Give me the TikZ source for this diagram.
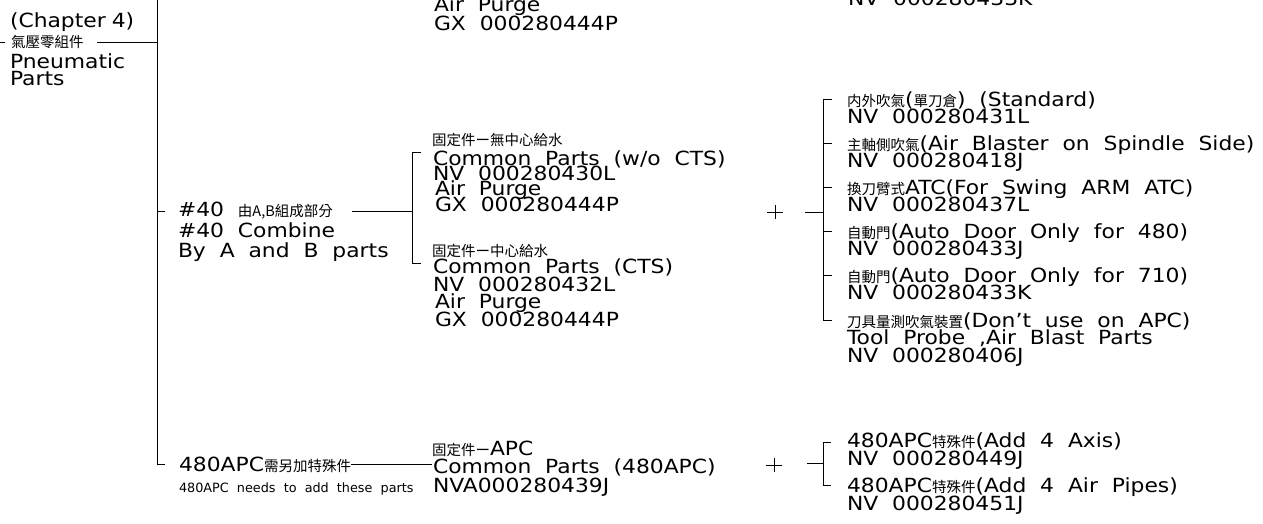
\documentclass[tikz,border=0pt]{standalone}
\usepackage{fontspec}
\setmainfont{DejaVu Sans}[FakeStretch=1.12,WordSpace=2]
\newfontfamily\cjkf{Noto Sans CJK TC}
\newfontfamily\smallf{DejaVu Sans}[WordSpace=2]
\newcommand\cj[1]{{\cjkf\fontsize{14.5}{14.5}\selectfont #1}}
\tikzset{
  lt/.style={anchor=base west, inner sep=0pt, outer sep=0pt, font=\fontsize{19.5}{19.5}\selectfont},
  sm/.style={anchor=base west, inner sep=0pt, outer sep=0pt, font=\smallf\fontsize{12.8}{12.8}\selectfont},
  wire/.style={line width=1pt, draw=black},
}
\begin{document}
\begin{tikzpicture}[x=1pt,y=-1pt]
\clip (0,0) rectangle (1263,523);
\fill[white] (0,0) rectangle (1263,523);

% cut-off text at top
\node[lt] (tAir) at (434,11) {Air Purge};
\node[lt] (tGX)  at (434,30) {GX 000280444P};
\node[lt] (tNV)  at (848,5)  {NV 000280433K};

% left root
\node[lt] (chap)   at (10,27) {(Chapter\hspace{6pt}4)};
\node[lt] (pneuCJ) at (11,47) {\cj{氣壓零組件}};
\node[lt] (pneu1)  at (10,68) {Pneumatic};
\node[lt] (pneu2)  at (10,85) {Parts};

\coordinate (l0) at (0,42);
\coordinate (l1) at (5,42);
\coordinate (l2) at (97,42);
\coordinate (trJ) at (157,42);
\coordinate (trTop) at (157,0);
\coordinate (trMid) at (157,211);
\coordinate (trMidE) at (165,211);
\coordinate (trBot) at (157,464);
\coordinate (trBotE) at (165,464);
\draw[wire] (l0) -- (l1);
\draw[wire] (l2) -- (trJ);
\draw[wire] (trTop) -- (trBot) -- (trBotE);
\draw[wire] (trMid) -- (trMidE);

% #40 group
\node[lt] (h40a) at (178,216) {\#40 \cj{由A,B組成部分}};
\node[lt] (h40b) at (178,237) {\#40 Combine};
\node[lt] (h40c) at (178,257) {By A and B parts};
\coordinate (h40L) at (352,211);
\coordinate (brM) at (412,211);
\coordinate (brT) at (412,152);
\coordinate (brTE) at (421,152);
\coordinate (brB) at (412,263);
\coordinate (brBE) at (421,263);
\draw[wire] (h40L) -- (brM);
\draw[wire] (brTE) -- (brT) -- (brB) -- (brBE);

% middle column, upper
\node[lt] (m1cj) at (432,145) {\cj{固定件ー無中心給水}};
\node[lt] (m1a)  at (433,165) {Common Parts (w/o CTS)};
\node[lt] (m1b)  at (433,180.5) {NV 000280430L};
\node[lt] (m1c)  at (435,195.5) {Air Purge};
\node[lt] (m1d)  at (435,211) {GX 000280444P};
% middle column, lower
\node[lt] (m2cj) at (432,256) {\cj{固定件ー中心給水}};
\node[lt] (m2a)  at (433,273) {Common Parts (CTS)};
\node[lt] (m2b)  at (433,291) {NV 000280432L};
\node[lt] (m2c)  at (435,308.5) {Air Purge};
\node[lt] (m2d)  at (435,326) {GX 000280444P};

% plus 1
\coordinate (p1l) at (767,212);
\coordinate (p1r) at (783,212);
\coordinate (p1t) at (775,205);
\coordinate (p1b) at (775,219);
\draw[wire] (p1l) -- (p1r);
\draw[wire] (p1t) -- (p1b);

% right bracket
\coordinate (rdL) at (805,212);
\coordinate (rdR) at (823,212);
\coordinate (rT) at (823,99);
\coordinate (rTE) at (832,99);
\coordinate (rB) at (823,320);
\coordinate (rBE) at (832,320);
\draw[wire] (rdL) -- (rdR);
\draw[wire] (rTE) -- (rT) -- (rB) -- (rBE);
\foreach \yy [count=\i] in {143,187,231,275}{
  \coordinate (rt\i) at (823,\yy);
  \coordinate (rte\i) at (832,\yy);
  \draw[wire] (rt\i) -- (rte\i);
}

\node[lt] (r1a) at (847,106) {\cj{内外吹氣}(\cj{單刀倉}) (Standard)};
\node[lt] (r1b) at (847,123) {NV 000280431L};
\node[lt] (r2a) at (847,150) {\cj{主軸側吹氣}(Air Blaster on Spindle Side)};
\node[lt] (r2b) at (847,167) {NV 000280418J};
\node[lt] (r3a) at (847,194) {\cj{換刀臂式}ATC(For Swing ARM ATC)};
\node[lt] (r3b) at (847,211) {NV 000280437L};
\node[lt] (r4a) at (847,238) {\cj{自動門}(Auto Door Only for 480)};
\node[lt] (r4b) at (847,255.5) {NV 000280433J};
\node[lt] (r5a) at (847,282) {\cj{自動門}(Auto Door Only for 710)};
\node[lt] (r5b) at (847,299.5) {NV 000280433K};
\node[lt] (r6a) at (847,327) {\cj{刀具量測吹氣裝置}(Don't use on APC)};
\node[lt] (r6b) at (847,344.5) {Tool Probe ,Air Blast Parts};
\node[lt] (r6c) at (847,362) {NV 000280406J};

% bottom group
\node[lt] (b1) at (179,471) {480APC\cj{需另加特殊件}};
\node[sm] (b2) at (179,492) {480APC needs to add these parts};
\coordinate (b1L) at (351,464);
\coordinate (b1R) at (432,464);
\draw[wire] (b1L) -- (b1R);
\node[lt] (b3) at (432,455) {\cj{固定件ー}APC};
\node[lt] (b4) at (433,473) {Common Parts (480APC)};
\node[lt] (b5) at (433,492) {NVA000280439J};

\coordinate (p2l) at (766,465);
\coordinate (p2r) at (782,465);
\coordinate (p2t) at (774,458);
\coordinate (p2b) at (774,472);
\draw[wire] (p2l) -- (p2r);
\draw[wire] (p2t) -- (p2b);

\coordinate (sdL) at (807,463);
\coordinate (sdR) at (823,463);
\coordinate (sT) at (823,442);
\coordinate (sTE) at (831,442);
\coordinate (sB) at (823,485);
\coordinate (sBE) at (831,485);
\draw[wire] (sdL) -- (sdR);
\draw[wire] (sTE) -- (sT) -- (sB) -- (sBE);

\node[lt] (s1a) at (847,447) {480APC\cj{特殊件}(Add 4 Axis)};
\node[lt] (s1b) at (847,465) {NV 000280449J};
\node[lt] (s2a) at (847,492) {480APC\cj{特殊件}(Add 4 Air Pipes)};
\node[lt] (s2b) at (847,510) {NV 000280451J};
\end{tikzpicture}
\end{document}
